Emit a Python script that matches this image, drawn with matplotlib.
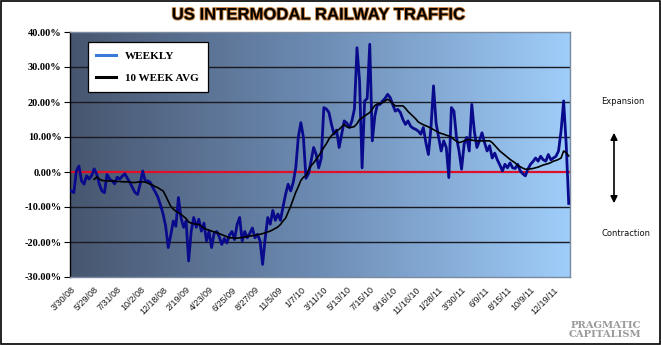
import numpy as np
import matplotlib
matplotlib.use("Agg")
import matplotlib.pyplot as plt
from matplotlib.lines import Line2D
from matplotlib.patches import Rectangle, FancyArrowPatch
import matplotlib.patheffects as pe
from matplotlib import font_manager
from matplotlib.colors import LinearSegmentedColormap

title = "US INTERMODAL RAILWAY TRAFFIC"
tick_labels = ["3/30/08", "5/29/08", "7/31/08", "10/2/08", "12/18/08", "2/19/09",
               "4/23/09", "6/25/09", "8/27/09", "11/5/09", "1/7/10", "3/11/10",
               "5/13/10", "7/15/10", "9/16/10", "11/16/10", "1/28/11", "3/30/11",
               "6/9/11", "8/15/11", "10/9/11", "12/19/11"]
label_every = 9

weekly = [
    -5.4, -5.9, 0.3, 1.7, -2.5, -3.5, -1.1, -2.0, -1.0, 0.9,
    -0.7, -3.5, -5.4, -5.9, -0.7, -2.0, -2.5, -3.4, -1.5, -2.0,
    -1.2, -0.5, -1.8, -3.0, -4.5, -5.9, -6.4, -3.5, 0.3, -2.6,
    -2.5, -3.0, -4.5, -5.8, -7.3, -9.5, -12.0, -15.5, -21.6, -18.0,
    -14.0, -15.5, -7.3, -13.0, -15.8, -14.0, -25.4, -17.0, -13.0, -15.8,
    -13.5, -16.9, -14.6, -19.7, -17.0, -21.6, -17.5, -17.0, -18.5, -20.7,
    -19.0, -20.3, -18.0, -17.0, -19.3, -15.0, -13.0, -19.7, -17.0, -18.8,
    -17.5, -16.0, -18.8, -17.8, -19.7, -26.4, -19.0, -13.0, -14.9, -11.0,
    -13.8, -12.0, -13.8, -10.0, -6.4, -3.5, -5.4, -3.0, 1.2, 10.0,
    14.1, 9.9, -1.8, -0.5, 3.1, 7.0, 5.0, 1.2, 4.0, 18.4,
    18.0, 17.0, 13.6, 10.8, 12.0, 7.0, 10.8, 14.6, 14.0, 12.7,
    14.6, 18.0, 35.5, 26.0, 1.2, 20.3, 21.0, 36.5, 8.9, 16.0,
    19.3, 19.3, 20.3, 21.0, 22.2, 21.3, 19.3, 17.4, 17.9, 17.0,
    15.0, 13.6, 14.6, 13.1, 12.5, 12.2, 11.7, 10.8, 12.7, 8.4,
    5.0, 12.7, 24.6, 14.0, 9.9, 6.0, 8.9, 7.0, -1.6, 18.4,
    17.4, 9.9, 6.0, 0.8, 8.0, 9.9, 6.0, 19.3, 11.7, 7.0,
    8.9, 11.2, 8.4, 6.0, 7.5, 4.0, 5.4, 3.5, 2.0, 0.3,
    2.2, 1.2, 2.6, 1.2, 1.0, 2.2, 0.3, -0.5, -1.1, 0.8,
    2.2, 3.0, 4.0, 3.1, 4.5, 3.5, 3.1, 5.0, 3.5, 4.0,
    4.5, 6.0, 11.7, 20.3, 8.0, -9.0,
]

avg10 = [np.nan] * 9 + [
    -2.1, -1.4, -2.0, -2.4, -2.5, -2.5, -2.6, -2.6, -2.6, -2.7,
    -2.7, -2.8, -2.8, -2.8, -2.9, -3.0, -3.0, -2.9, -2.8, -2.8,
    -2.9, -3.2, -3.5, -3.8, -4.2, -4.5, -5.0, -5.4, -6.8, -8.3,
    -9.8, -10.6, -11.2, -11.6, -12.1, -12.7, -13.3, -14.3, -14.6, -14.8,
    -14.9, -15.0, -15.5, -16.0, -16.4, -16.6, -16.9, -17.1, -17.3, -17.6,
    -17.9, -18.2, -18.5, -18.8, -18.8, -18.9, -18.9, -18.8, -18.7, -18.6,
    -18.4, -18.3, -18.2, -18.1, -17.9, -17.8, -17.6, -17.4, -17.1, -16.9,
    -16.5, -16.1, -15.7, -15.0, -14.0, -13.2, -11.5, -9.8, -7.8, -5.8,
    -4.2, -2.4, -1.5, -1.0, 0.5, 1.8, 2.6, 3.6, 4.6, 5.8,
    7.0, 8.1, 9.4, 10.4, 11.1, 11.7, 12.2, 12.9, 13.6, 12.9,
    12.7, 12.8, 13.0, 13.8, 15.0, 15.5, 16.0, 16.5, 17.0, 18.0,
    19.0, 19.4, 19.6, 19.8, 20.3, 20.8, 20.3, 19.5, 18.9, 18.9,
    18.9, 18.9, 18.2, 17.3, 16.6, 15.9, 15.2, 14.3, 13.9, 13.5,
    13.2, 12.9, 12.5, 12.1, 11.7, 11.3, 11.0, 10.8, 10.5, 10.3,
    9.9, 9.3, 8.8, 8.4, 8.6, 8.9, 9.2, 9.3, 9.1, 9.0,
    8.9, 8.9, 8.9, 8.9, 8.9, 8.9, 8.4, 7.6, 6.8, 6.0,
    5.4, 4.8, 4.2, 3.6, 3.1, 2.6, 1.9, 1.5, 1.1, 0.8,
    0.8, 0.9, 1.0, 1.2, 1.4, 1.7, 2.0, 2.2, 2.4, 2.7,
    3.1, 3.3, 3.6, 4.0, 6.0, 5.5, 4.6,
]

y_ticks = [-30, -20, -10, 0, 10, 20, 30, 40]

W, H = 661, 345
fig = plt.figure(figsize=(W / 100, H / 100), dpi=100)
fig.patch.set_facecolor("white")

fig.add_artist(Rectangle((0.001, 0.002), 0.997, 0.995, transform=fig.transFigure,
                         fill=False, edgecolor="black", lw=1.2))

L, R, T, B = 70, 570, 32, 277
ax = fig.add_axes([L / W, 1 - B / H, (R - L) / W, (B - T) / H])

n = len(weekly)
x = np.arange(n)
ax.set_xlim(-0.5, n - 0.5)
ax.set_ylim(-30, 40)

grad = np.linspace(0, 1, 256)[None, :]
cmap = LinearSegmentedColormap.from_list("bg", ["#47566f", "#6d8cb4", "#9fcdf9"])
ax.imshow(grad, extent=[-0.5, n - 0.5, -30, 40], aspect="auto", cmap=cmap,
          zorder=0, interpolation="bicubic")

for yv in y_ticks:
    if yv not in (0, -30, 40):
        ax.axhline(yv, color="#1a1a22", lw=1.0, zorder=1)
ax.axhline(0, color="#e0102a", lw=1.6, zorder=2)

ax.plot(x, weekly, color="#0a0a8c", lw=2.0, zorder=3, solid_joinstyle="round")
ax.plot(x, avg10, color="black", lw=1.2, zorder=4)

for s in ["top", "right", "bottom"]:
    ax.spines[s].set_color("#7a8aa0")
    ax.spines[s].set_linewidth(1.0)
ax.spines["left"].set_color("black")
ax.spines["left"].set_linewidth(1.0)

ax.set_yticks(y_ticks)
ax.set_yticklabels([f"{v:.2f}%" for v in y_ticks],
                   fontdict=dict(family="Liberation Serif", weight="bold", size=7.5))
ax.tick_params(axis="y", direction="out", length=4, width=0.8, pad=2)

ticks = list(range(0, label_every * len(tick_labels), label_every))
ax.set_xticks(ticks)
ax.set_xticklabels(tick_labels, rotation=45, ha="right", rotation_mode="anchor",
                   family="Liberation Sans", size=6.5, color="#1a1a1a")
ax.tick_params(axis="x", length=0, pad=6)

handles = [Line2D([], [], color="#3a7ad8", lw=2.2),
           Line2D([], [], color="black", lw=2.2)]
leg = ax.legend(handles, ["WEEKLY", "10 WEEK AVG"], loc="upper left",
                bbox_to_anchor=(0.024, 0.98), frameon=True, fancybox=False,
                prop=dict(family="Liberation Serif", weight="bold", size=8),
                handlelength=1.8, borderpad=0.8, labelspacing=1.1, handletextpad=0.8)
leg.get_frame().set_edgecolor("black")
leg.get_frame().set_linewidth(0.9)
leg.get_frame().set_alpha(1)

names = {f.name for f in font_manager.fontManager.ttflist}
tfam = "Liberation Sans Narrow" if "Liberation Sans Narrow" in names else "Liberation Sans"
fig.text(318 / W, 1 - 15 / H, title, ha="center", va="center", family=tfam,
         weight="bold", size=14 if tfam.endswith("Narrow") else 12, color="black",
         path_effects=[pe.withStroke(linewidth=1.3, foreground="#c8803a")])

fig.text(623 / W, 1 - 101 / H, "Expansion", ha="center", va="center",
         family="DejaVu Sans", size=6, color="#111111")
fig.text(626 / W, 1 - 234 / H, "Contraction", ha="center", va="center",
         family="DejaVu Sans", size=6, color="#111111")
fig.add_artist(FancyArrowPatch((614 / W, 1 - 130 / H), (614 / W, 1 - 206 / H),
                               transform=fig.transFigure, arrowstyle="<|-|>",
                               mutation_scale=10, color="black", lw=1.2))

fig.text(641 / W, 1 - 330 / H, "PRAGMATIC\nCAPITALISM", ha="right", va="center",
         family="DejaVu Serif", weight="bold", size=7.2, color="#9a9a9a",
         linespacing=0.9)

fig.savefig("out.png", dpi=100)
